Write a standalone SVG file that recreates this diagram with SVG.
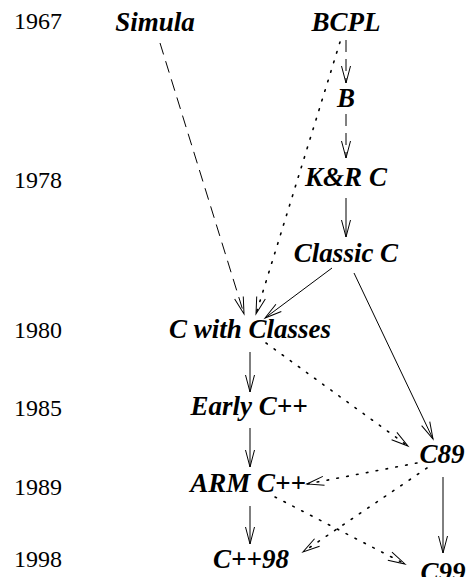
<svg xmlns="http://www.w3.org/2000/svg" width="466" height="577" viewBox="0 0 466 577">
  <style>
    .year { font-family: "Liberation Serif", "Times New Roman", serif; font-size: 24px; fill: #000; }
    .lang { font-family: "Liberation Serif", "Times New Roman", serif; font-size: 27px; font-weight: bold; font-style: italic; fill: #000; text-anchor: middle; }
    .edge { fill: none; stroke: #000; stroke-width: 1; }
    .dashed { stroke-dasharray: 12 7; }
    .dotted { stroke-dasharray: 1.6 8.4; stroke-linecap: round; stroke-width: 1.6; }
  </style>
  <defs>
    <marker id="arrow" markerUnits="userSpaceOnUse" markerWidth="20" markerHeight="12" viewBox="-18 -6 20 12" refX="0" refY="0" orient="auto" overflow="visible">
      <path d="M-17,-4.5 L0,0 L-17,4.5" fill="none" stroke="#000" stroke-width="1" stroke-dasharray="none"/>
    </marker>
  </defs>

  <!-- timeline -->
  <g id="years">
    <text class="year" x="14" y="29">1967</text>
    <text class="year" x="14" y="188">1978</text>
    <text class="year" x="14" y="338">1980</text>
    <text class="year" x="14" y="416">1985</text>
    <text class="year" x="14" y="495">1989</text>
    <text class="year" x="14" y="567">1998</text>
  </g>

  <!-- languages -->
  <g id="simula"><text class="lang" x="155" y="31">Simula</text></g>
  <g id="bcpl"><text class="lang" x="346" y="31">BCPL</text></g>
  <g id="b"><text class="lang" x="346" y="107">B</text></g>
  <g id="krc"><text class="lang" x="346" y="186">K&amp;R C</text></g>
  <g id="classic-c"><text class="lang" x="346" y="262">Classic C</text></g>
  <g id="c-with-classes"><text class="lang" x="250" y="338">C with Classes</text></g>
  <g id="early-cpp"><text class="lang" x="249" y="415">Early C++</text></g>
  <g id="c89"><text class="lang" x="442" y="463">C89</text></g>
  <g id="arm-cpp"><text class="lang" x="248" y="492">ARM C++</text></g>
  <g id="cpp98"><text class="lang" x="251" y="568">C++98</text></g>
  <g id="c99"><text class="lang" x="443" y="581">C99</text></g>

  <!-- influences -->
  <g id="connectors">
    <line class="edge dashed" x1="160" y1="43" x2="244" y2="314" marker-end="url(#arrow)"/>
    <line class="edge dotted" x1="340" y1="42" x2="256" y2="314" marker-end="url(#arrow)"/>
    <line class="edge dashed" x1="346" y1="40" x2="346" y2="83" marker-end="url(#arrow)"/>
    <line class="edge dashed" x1="346" y1="114" x2="346" y2="158" marker-end="url(#arrow)"/>
    <line class="edge" x1="346" y1="198" x2="346" y2="237" marker-end="url(#arrow)"/>
    <line class="edge" x1="332" y1="268" x2="265" y2="318" marker-end="url(#arrow)"/>
    <line class="edge" x1="354" y1="273" x2="433" y2="439" marker-end="url(#arrow)"/>
    <line class="edge" x1="250" y1="352" x2="250" y2="392" marker-end="url(#arrow)"/>
    <line class="edge dotted" x1="266" y1="343" x2="408" y2="446" marker-end="url(#arrow)"/>
    <line class="edge" x1="250" y1="428" x2="250" y2="467" marker-end="url(#arrow)"/>
    <line class="edge dotted" x1="417" y1="463" x2="307" y2="484" marker-end="url(#arrow)"/>
    <line class="edge dotted" x1="427" y1="468" x2="303" y2="552" marker-end="url(#arrow)"/>
    <line class="edge dotted" x1="275" y1="497" x2="405" y2="564" marker-end="url(#arrow)"/>
    <line class="edge" x1="250" y1="506" x2="250" y2="544" marker-end="url(#arrow)"/>
    <line class="edge" x1="443" y1="477" x2="443" y2="553" marker-end="url(#arrow)"/>
  </g>
</svg>
